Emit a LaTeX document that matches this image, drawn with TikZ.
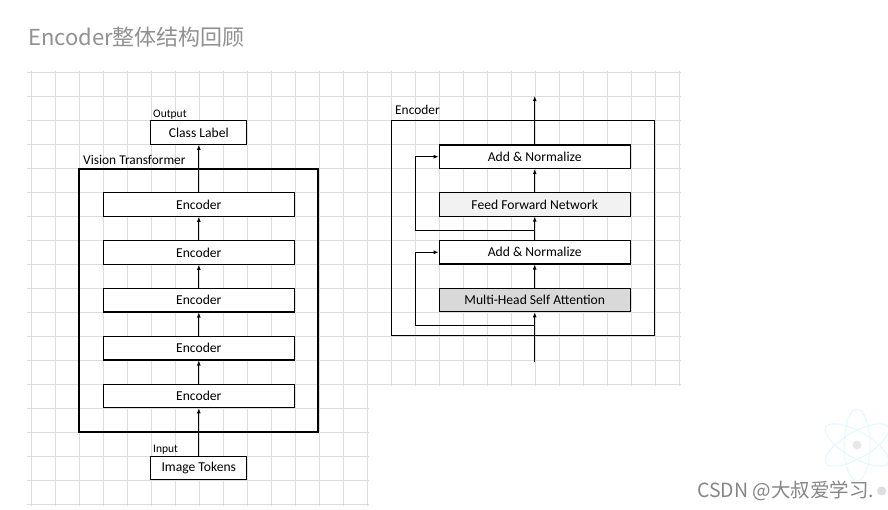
\documentclass[tikz,border=0pt]{standalone}
\usepackage{fontspec}
\setmainfont{Carlito}
\newfontfamily\cjk{Noto Sans CJK SC}
\usetikzlibrary{arrows.meta}
\definecolor{gridgray}{HTML}{DCDCDC}
\definecolor{titlegray}{HTML}{919191}
\definecolor{ffngray}{HTML}{F2F2F2}
\definecolor{mhagray}{HTML}{D9D9D9}
\definecolor{atomcyan}{HTML}{E2FAFA}

\begin{document}
\begin{tikzpicture}[x=1pt,y=-1pt,
	gridline/.style={gridgray,line width=0.9pt},
	blk/.style={draw,line width=1.2pt,minimum width=191pt,minimum height=23.4pt,inner sep=0pt,font=\fontsize{13.6}{13.6}\selectfont},
	lbl/.style={draw,line width=1.2pt,minimum width=96pt,minimum height=23.4pt,inner sep=0pt,font=\fontsize{13.6}{13.6}\selectfont},
	frame/.style={draw,line width=1.5pt,inner sep=0pt},
	boxtitle/.style={inner sep=0pt,anchor=base west,font=\fontsize{13.4}{13.4}\selectfont},
	tag/.style={inner sep=0pt,anchor=base west,font=\fontsize{11.5}{11.5}\selectfont},
	arr/.style={line width=1.3pt,-{Latex[length=5pt,width=4pt]}},
	res/.style={line width=1pt,-{Latex[length=5pt,width=4pt]}}]
	\useasboundingbox (0,0) rectangle (888,509);
	\fill[white] (0,0) rectangle (888,509);

	\foreach \i in {0,...,14} \draw[gridline] (31.5+24*\i,71) -- (31.5+24*\i,506);
	\foreach \i in {15,...,27} \draw[gridline] (31.5+24*\i,71) -- (31.5+24*\i,386);
	\foreach \j in {0,...,13} \draw[gridline] (27,72.5+24*\j) -- (681,72.5+24*\j);
	\foreach \j in {14,...,18} \draw[gridline] (27,72.5+24*\j) -- (369,72.5+24*\j);

	\node[anchor=base west,inner sep=0pt,text=titlegray,font=\cjk\fontsize{22}{22}\selectfont] (title) at (28,45) {Encoder整体结构回顾};

	\node[frame,minimum width=239pt,minimum height=263pt] (vit) at (198.5,300.5) {};
	\node[boxtitle] (vitname) at (83,164) {Vision Transformer};
	\node[lbl,fill=white] (cls) at (198.8,132.5) {Class Label};
	\node[tag] (out) at (153,117) {Output};
	\foreach \k [count=\n] in {204.5,252.5,300.2,348.2,396} \node[blk,fill=white] (enc\n) at (198.8,\k) {Encoder};
	\foreach \a/\b in {2/1,3/2,4/3,5/4} \draw[arr] (enc\a) -- (enc\b);
	\draw[arr] (enc1) -- (cls);
	\node[lbl,fill=white] (tok) at (198.8,468) {Image Tokens};
	\node[tag] (inp) at (153,452) {Input};
	\draw[arr] (tok) -- (enc5);

	\node[frame,minimum width=262.6pt,minimum height=215pt] (enc) at (523,228.2) {};
	\node[boxtitle] (encname) at (395,114) {Encoder};
	\node[blk,fill=white] (an1) at (534.7,156.7) {Add \& Normalize};
	\node[blk,fill=ffngray] (ffn) at (534.7,204.4) {Feed Forward Network};
	\node[blk,fill=white] (an2) at (534.7,252.3) {Add \& Normalize};
	\node[blk,fill=mhagray] (mha) at (534.7,300) {Multi-Head Self Attention};
	\coordinate (top) at (534.7,96);
	\coordinate (in) at (534.7,362);
	\coordinate (s1) at (534.7,325);
	\coordinate (s2) at (534.7,230.7);
	\draw[arr] (in) -- (mha);
	\draw[arr] (mha) -- (an2);
	\draw[arr] (an2) -- (ffn);
	\draw[arr] (ffn) -- (an1);
	\draw[arr] (an1) -- (top);
	\draw[res] (s1) -- ++(-119.7,0) |- (an2.west);
	\draw[res] (s2) -- ++(-119.7,0) |- (an1.west);

	\foreach \r in {90,30,-30} \draw[atomcyan,line width=1pt,rotate around={\r:(857,445)}] (857,445) ellipse (36 and 13);
	\fill[gray!18] (857,445) circle (4.5);
	\node[anchor=base west,inner sep=0pt,text=gray!95,font=\cjk\fontsize{19.5}{19.5}\selectfont] (wm) at (697,497) {CSDN @大叔爱学习.};
	\fill[blue!8!gray!25] (881.7,491) circle (4.5);
\end{tikzpicture}
\end{document}
